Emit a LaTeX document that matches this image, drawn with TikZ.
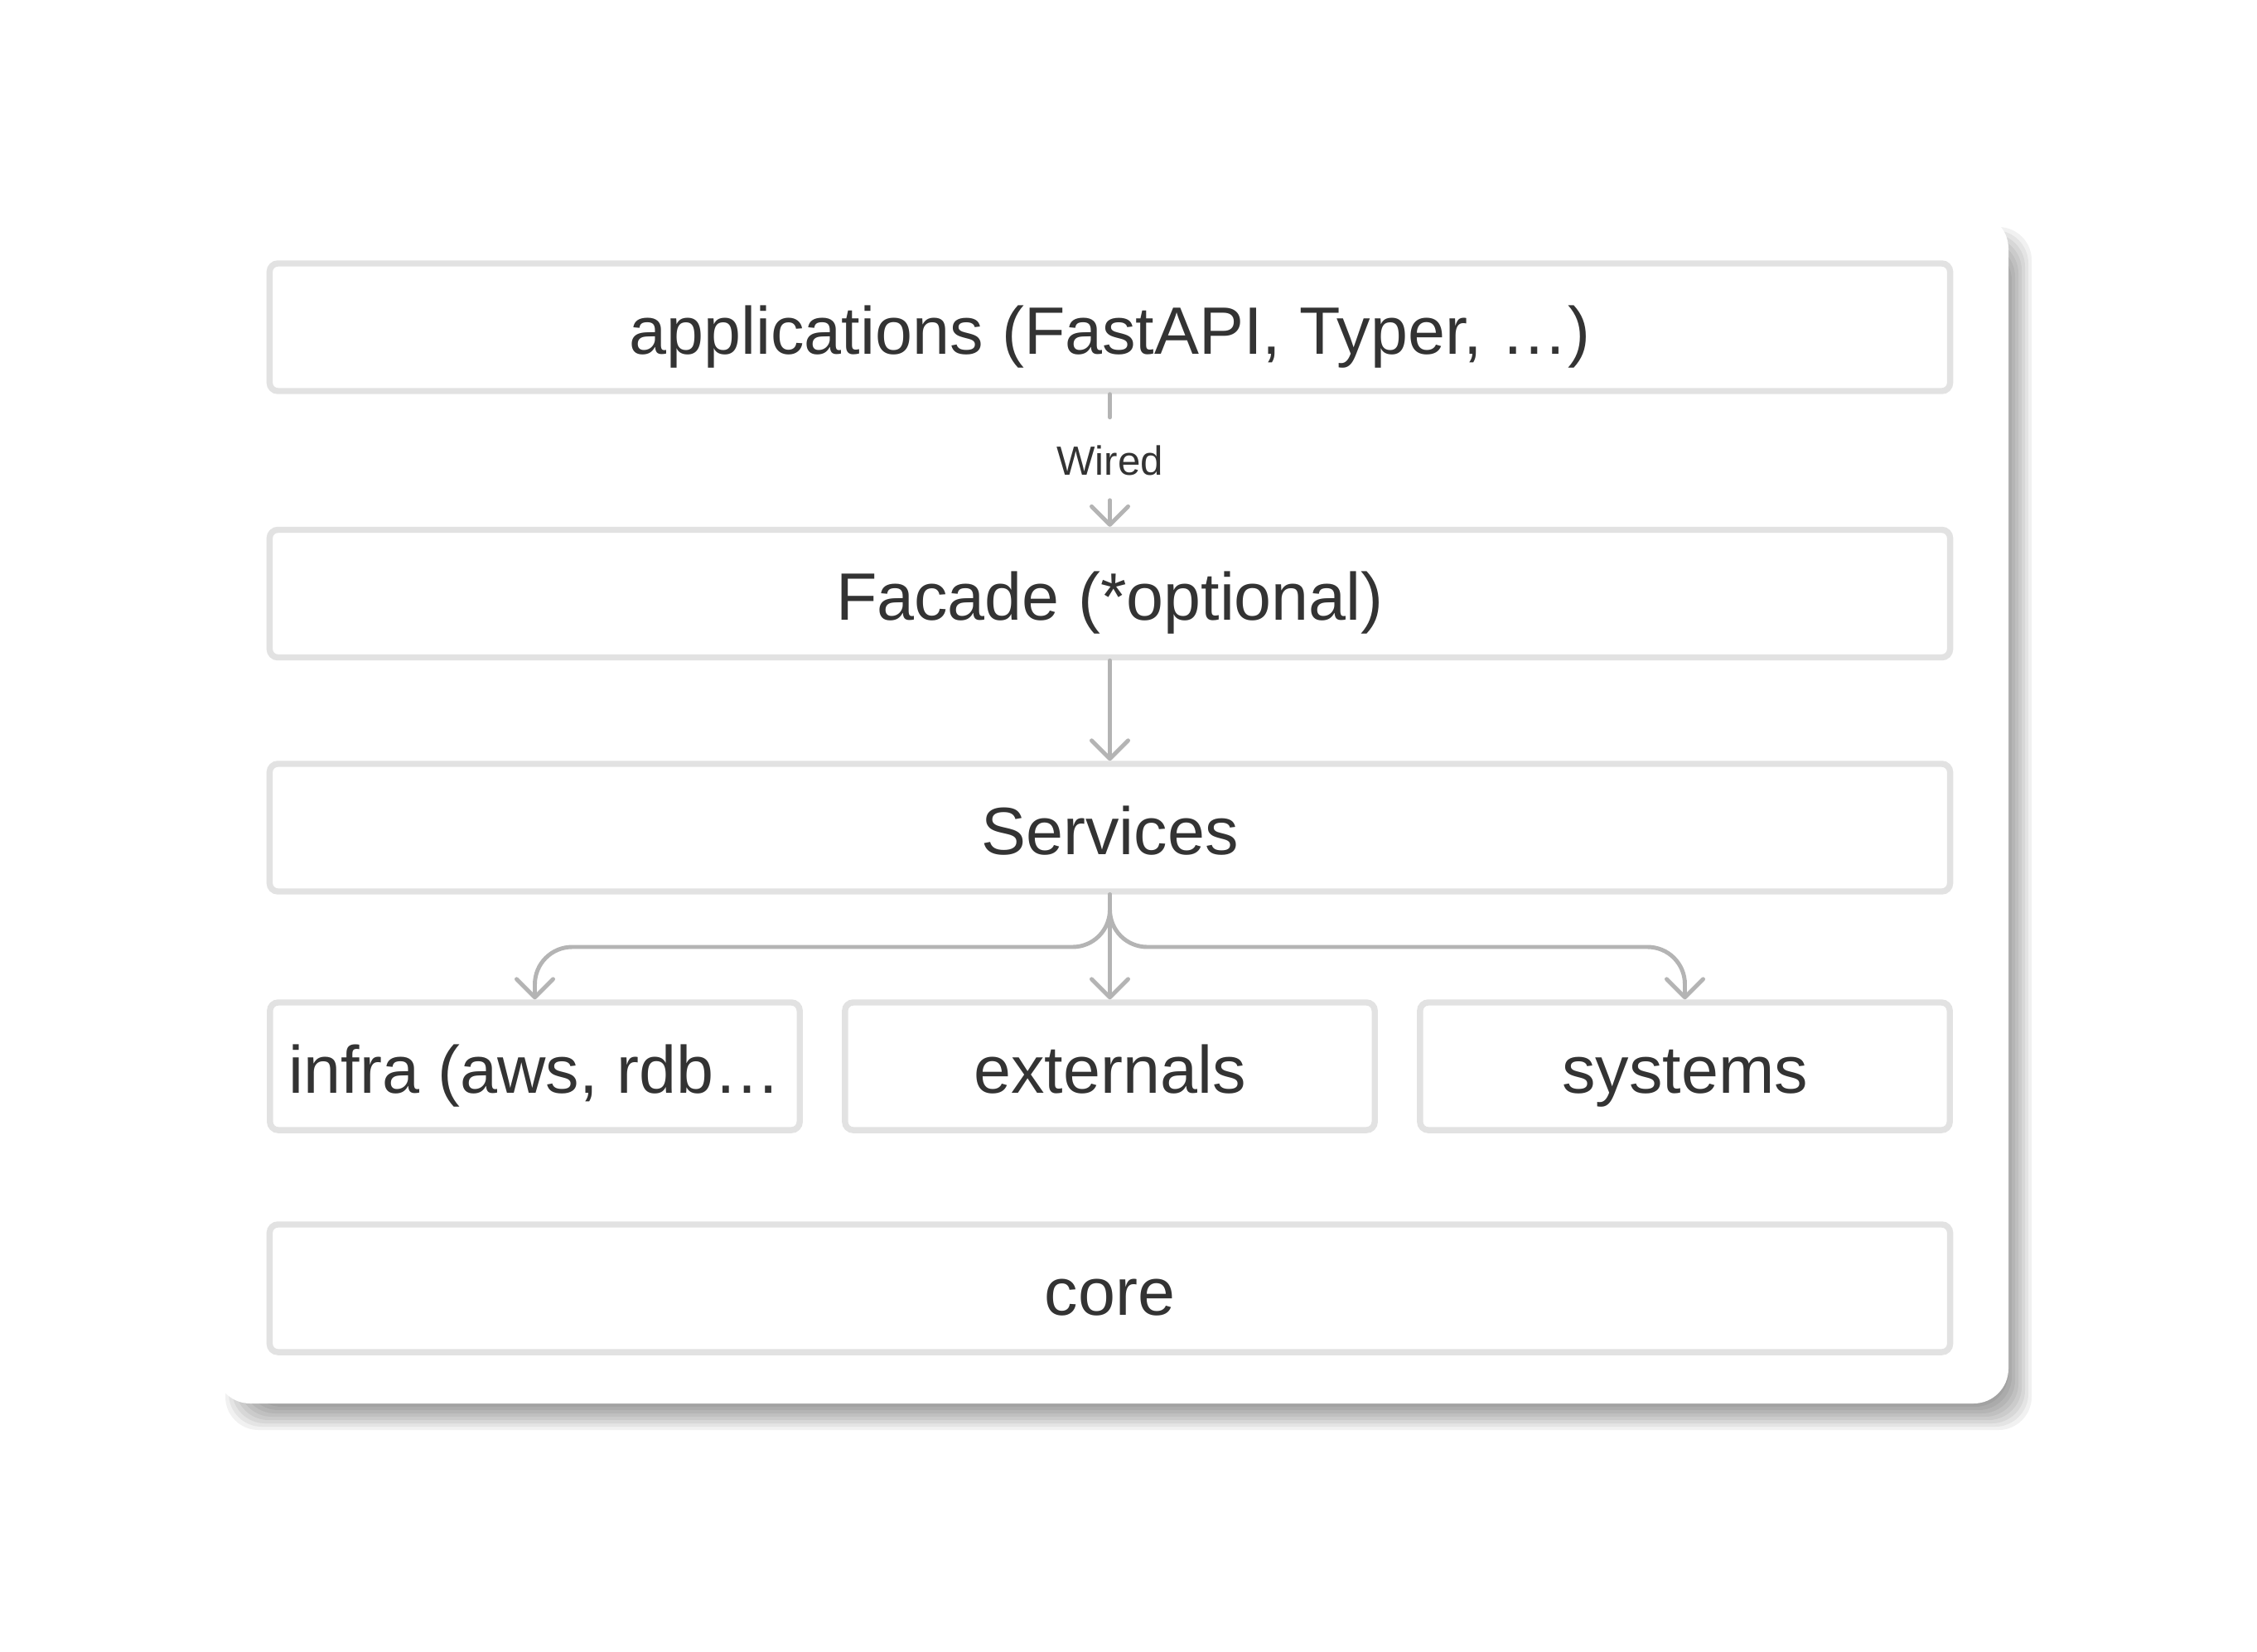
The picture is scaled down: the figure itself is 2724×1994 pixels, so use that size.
\documentclass[tikz,border=0pt]{standalone}
\usepackage{fontspec}
\setmainfont{Liberation Sans}
\usetikzlibrary{arrows.meta}
\definecolor{boxgray}{HTML}{E2E2E2}
\definecolor{wiregray}{HTML}{B4B4B4}
\definecolor{ink}{HTML}{333333}

\begin{document}
\begin{tikzpicture}[x=0.01cm, y=-0.01cm,
	layer/.style={draw=boxgray, line width=2.1pt, rounded corners=1mm, fill=white,
		text=ink, font=\fontsize{23}{28}\selectfont, text height=0.8cm, text depth=0.16cm,
		minimum height=1.54cm, inner sep=0pt},
	link/.style={draw=wiregray, line width=1.4pt, line cap=round,
		-{Straight Barb[round, length=0.22cm, width=0.44cm]}}]
	\useasboundingbox (0,0) rectangle (2724,1994);
	% card with soft shadow
	\foreach \e in {0,4,...,28}
		\fill[black, opacity=0.055, rounded corners=0.4cm] (300-\e,302-\e) rectangle (2424+\e,1698+\e);
	\fill[white, rounded corners=0.42cm] (260,258) rectangle (2424,1694);

	\node[layer, minimum width=20.27cm] (app) at (1339.5,395) {applications (FastAPI, Typer, …)};
	\node[layer, minimum width=20.27cm] (facade) at (1339.5,716.5) {Facade (*optional)};
	\node[layer, minimum width=20.27cm] (services) at (1339.5,999) {Services};
	\node[layer, minimum width=6.39cm] (infra) at (645.5,1287) {infra (aws, rdb…};
	\node[layer, minimum width=6.39cm] (externals) at (1339.5,1287) {externals};
	\node[layer, minimum width=6.39cm] (systems) at (2033.5,1287) {systems};
	\node[layer, minimum width=20.27cm] (core) at (1339.5,1555) {core};

	\draw[link, dash pattern=on 0.28cm off 1cm] (app) -- node[fill=white, text=ink, font=\fontsize{14}{16}\selectfont] (wired) {Wired} (facade);
	\draw[link] (facade) -- (services);
	\coordinate (fork) at (1339.5,1143);
	\draw[link] (services) -- (externals);
	\draw[link, rounded corners=0.45cm] (services.south) |- (infra.north |- fork) -- (infra.north);
	\draw[link, rounded corners=0.45cm] (services.south) |- (systems.north |- fork) -- (systems.north);
\end{tikzpicture}
\end{document}
